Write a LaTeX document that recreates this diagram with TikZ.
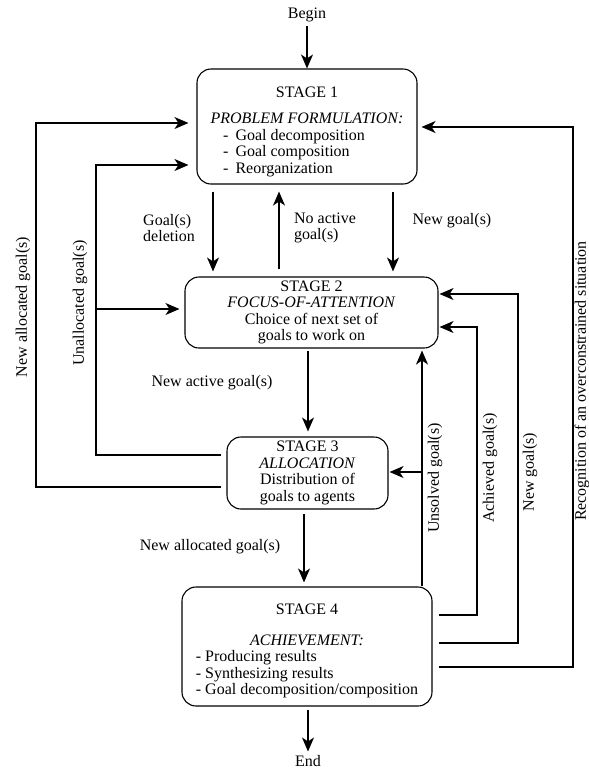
\documentclass[tikz,border=0pt]{standalone}
\usepackage{fontspec}
\setmainfont{Liberation Serif}
\usetikzlibrary{arrows.meta}
\begin{document}
\begin{tikzpicture}[x=1pt,y=-1pt,line width=1.1pt,font=\fontsize{16}{16.5}\selectfont,
    stagebox/.style={draw,rounded corners=14pt,align=center,inner sep=1pt},
    arr/.style={-{Stealth[length=14pt,width=12pt,inset=4pt]}},
    vlbl/.style={rotate=90,inner sep=0pt}]
  \useasboundingbox (0,0) rectangle (589,769);
  % stages
  \node[stagebox,minimum width=220pt,minimum height=115pt] (s1) at (307,126.5) {\rule{0pt}{22pt}STAGE 1\\[10pt]
    \textit{PROBLEM FORMULATION:}\\ \begin{tabular}[t]{@{}l@{}}-\hspace{7pt}Goal decomposition\\-\hspace{7pt}Goal
    composition\\-\hspace{7pt}Reorganization\end{tabular}\hspace*{26pt}};
  \node[stagebox,minimum width=253pt,minimum height=71pt] (s2) at (311.5,312.5) {STAGE 2\\
    \textit{FOCUS-OF-ATTENTION}\\ Choice of next set of\\ goals to work on};
  \node[stagebox,minimum width=161pt,minimum height=72pt] (s3) at (307.5,473) {STAGE 3\\ \textit{ALLOCATION}\\
    Distribution of\\ goals to agents};
  \node[stagebox,minimum width=250pt,minimum height=119pt] (s4) at (307,646.5) {\rule{0pt}{21pt}STAGE 4\\[14pt]
    \textit{ACHIEVEMENT:}\hspace*{30pt}\\ \begin{tabular}[t]{@{}l@{}}- Producing results\\- Synthesizing results\\- Goal
    decomposition/composition\end{tabular}};
  \node (begin) at (307,15) {Begin}; \node (end) at (308,761) {End};
  % straight flows
  \draw[arr] (begin) -- (s1.north);
  \draw[arr,shorten <=7pt,shorten >=5pt] (213,0 |- s1.south) -- (213,0 |- s2.north);
  \draw[arr,shorten <=7pt,shorten >=7pt] (279,0 |- s2.north) -- (279,0 |- s1.south);
  \draw[arr,shorten <=7pt,shorten >=5pt] (393,0 |- s1.south) -- (393,0 |- s2.north);
  \draw[arr,shorten <=2pt,shorten >=5pt] (308,0 |- s2.south) -- (308,0 |- s3.north);
  \draw[arr,shorten <=4pt,shorten >=4pt] (304,0 |- s3.south) -- (304,0 |- s4.north);
  \draw[arr,shorten <=3pt] (308,0 |- s4.south) -- (end);
  \node[align=left] (ldel) at (169,228) {Goal(s)\\deletion};
  \node[align=left] (lnoact) at (325,228) {No active\\goal(s)};
  \node (lnew) at (452,221) {New goal(s)};
  \node (lact) at (212,383) {New active goal(s)};
  \node (lalloc) at (210,547) {New allocated goal(s)};
  % left loops
  \draw[arr,shorten <=5pt,shorten >=8pt] (s3.west |- 0,487) -| (36,123) -- (s1.west |- 0,123);
  \draw[arr,shorten <=5pt,shorten >=8pt] (s3.west |- 0,455) -| (96,165) -- (s1.west |- 0,165);
  \coordinate (ubr) at (96,309); \draw[arr,shorten >=5pt] (ubr) -- (s2.west |- ubr);
  \node[vlbl] (lnewalloc) at (23,307) {New allocated goal(s)};
  \node[vlbl] (lunalloc) at (80,303) {Unallocated goal(s)};
  % right loops
  \draw[arr,shorten >=2pt] (s4.north -| 422,0) -- (s2.south -| 422,0);
  \coordinate (sbr) at (422,472); \draw[arr,shorten >=1pt] (sbr) -- (s3.east |- sbr);
  \draw[arr,shorten <=6pt,shorten >=1pt] (s4.east |- 0,615) -| (477,327) -- (s2.east |- 0,327);
  \draw[arr,shorten <=6pt,shorten >=1pt] (s4.east |- 0,643) -| (518,294) -- (s2.east |- 0,294);
  \draw[arr,shorten <=6pt,shorten >=4pt] (s4.east |- 0,667) -| (573,127) -- (s1.east |- 0,127);
  \node[vlbl] (lunsolved) at (435,478) {Unsolved goal(s)};
  \node[vlbl] (lachieved) at (490,468) {Achieved goal(s)};
  \node[vlbl] (lnewr) at (530,472) {New goal(s)};
  \node[vlbl] (lrecog) at (582,381) {Recognition of an overconstrained situation};
\end{tikzpicture}
\end{document}
